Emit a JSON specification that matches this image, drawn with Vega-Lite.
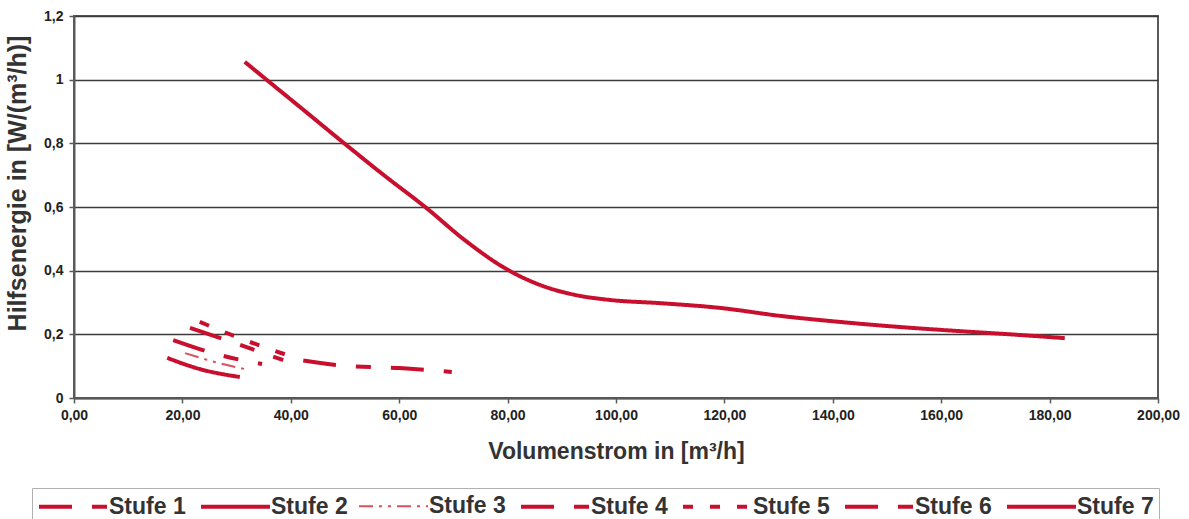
{
  "$schema": "https://vega.github.io/schema/vega-lite/v6.json",
  "autosize": {"type": "none"},
  "width": 1084,
  "height": 382,
  "padding": {"left": 74, "top": 16, "right": 31, "bottom": 121},
  "background": "white",
  "config": {
    "font": "Liberation Sans",
    "view": {"stroke": "#5a5a5a", "strokeWidth": 2}
  },
  "data": {
    "values": [
      {"stufe": "Stufe 1", "x": 18.3, "y": 0.182},
      {"stufe": "Stufe 1", "x": 26.9, "y": 0.135},
      {"stufe": "Stufe 1", "x": 34.7, "y": 0.107},
      {"stufe": "Stufe 2", "x": 17.2, "y": 0.126},
      {"stufe": "Stufe 2", "x": 23.2, "y": 0.091},
      {"stufe": "Stufe 2", "x": 30.6, "y": 0.066},
      {"stufe": "Stufe 3", "x": 20.5, "y": 0.141},
      {"stufe": "Stufe 3", "x": 26.0, "y": 0.113},
      {"stufe": "Stufe 3", "x": 31.5, "y": 0.091},
      {"stufe": "Stufe 4", "x": 21.4, "y": 0.220},
      {"stufe": "Stufe 4", "x": 30.6, "y": 0.167},
      {"stufe": "Stufe 4", "x": 38.6, "y": 0.119},
      {"stufe": "Stufe 5", "x": 23.2, "y": 0.239},
      {"stufe": "Stufe 5", "x": 31.5, "y": 0.182},
      {"stufe": "Stufe 5", "x": 39.3, "y": 0.135},
      {"stufe": "Stufe 6", "x": 42.3, "y": 0.118},
      {"stufe": "Stufe 6", "x": 50.0, "y": 0.101},
      {"stufe": "Stufe 6", "x": 60.1, "y": 0.094},
      {"stufe": "Stufe 6", "x": 69.7, "y": 0.082},
      {"stufe": "Stufe 7", "x": 31.5, "y": 1.056},
      {"stufe": "Stufe 7", "x": 35.8, "y": 0.996},
      {"stufe": "Stufe 7", "x": 41.7, "y": 0.914},
      {"stufe": "Stufe 7", "x": 50.0, "y": 0.798},
      {"stufe": "Stufe 7", "x": 57.4, "y": 0.697},
      {"stufe": "Stufe 7", "x": 64.8, "y": 0.600},
      {"stufe": "Stufe 7", "x": 72.1, "y": 0.496},
      {"stufe": "Stufe 7", "x": 80.1, "y": 0.402},
      {"stufe": "Stufe 7", "x": 86.0, "y": 0.355},
      {"stufe": "Stufe 7", "x": 92.4, "y": 0.324},
      {"stufe": "Stufe 7", "x": 98.9, "y": 0.308},
      {"stufe": "Stufe 7", "x": 108.1, "y": 0.298},
      {"stufe": "Stufe 7", "x": 119.2, "y": 0.283},
      {"stufe": "Stufe 7", "x": 130.3, "y": 0.258},
      {"stufe": "Stufe 7", "x": 141.3, "y": 0.239},
      {"stufe": "Stufe 7", "x": 152.4, "y": 0.223},
      {"stufe": "Stufe 7", "x": 163.5, "y": 0.210},
      {"stufe": "Stufe 7", "x": 174.5, "y": 0.198},
      {"stufe": "Stufe 7", "x": 182.8, "y": 0.188}
    ]
  },
  "mark": {"type": "line", "interpolate": "monotone", "strokeCap": "butt", "strokeJoin": "round"},
  "encoding": {
    "x": {
      "field": "x", "type": "quantitative",
      "scale": {"domain": [0, 200], "nice": false, "zero": false},
      "axis": {
        "values": [0, 20, 40, 60, 80, 100, 120, 140, 160, 180, 200],
        "labelExpr": "replace(format(datum.value, '.2f'), '.', ',')",
        "grid": false,
        "domainColor": "#5a5a5a", "domainWidth": 2,
        "tickColor": "#5a5a5a", "tickSize": 5, "tickWidth": 1.5,
        "labelFont": "Liberation Sans", "labelFontWeight": "bold", "labelFontSize": 14,
        "labelColor": "#222", "labelPadding": 5, "labelFlush": false,
        "title": "Volumenstrom in [m³/h]",
        "titleFont": "Liberation Sans", "titleFontWeight": "bold", "titleFontSize": 23,
        "titleColor": "#333", "titleX": 542, "titleY": 53, "titleAlign": "center", "titleBaseline": "middle"
      }
    },
    "y": {
      "field": "y", "type": "quantitative",
      "scale": {"domain": [0, 1.2], "nice": false, "zero": false},
      "axis": {
        "values": [0, 0.2, 0.4, 0.6, 0.8, 1, 1.2],
        "labelExpr": "replace(toString(datum.value), '.', ',')",
        "grid": true, "gridColor": "#3a3a3a", "gridWidth": 1.6, "gridOpacity": 1,
        "domainColor": "#5a5a5a", "domainWidth": 2,
        "tickColor": "#5a5a5a", "tickSize": 5, "tickWidth": 1.5,
        "labelFont": "Liberation Sans", "labelFontWeight": "bold", "labelFontSize": 14,
        "labelColor": "#222", "labelPadding": 6,
        "title": "Hilfsenergie in [W/(m³/h)]",
        "titleFont": "Liberation Sans", "titleFontWeight": "bold", "titleFontSize": 25,
        "titleColor": "#333", "titleX": -57, "titleY": 167, "titleAlign": "center", "titleBaseline": "middle", "titleAngle": 270
      }
    },
    "color": {
      "field": "stufe", "type": "nominal",
      "scale": {
        "domain": ["Stufe 1", "Stufe 2", "Stufe 3", "Stufe 4", "Stufe 5", "Stufe 6", "Stufe 7"],
        "range": ["#c8102e", "#c8102e", "#d9505e", "#c8102e", "#c8102e", "#c8102e", "#c8102e"]
      },
      "legend": {
        "title": null, "orient": "none", "legendX": -42, "legendY": 472,
        "direction": "horizontal", "columns": 7,
        "symbolType": "M-1,0H5", "symbolSize": 529, "symbolStrokeWidth": 4, "symbolFillColor": "transparent",
        "labelFont": "Liberation Sans", "labelFontWeight": "bold", "labelFontSize": 23, "labelColor": "#333",
        "labelOffset": 45, "columnPadding": 7, "padding": 5,
        "strokeColor": "#b0b0b0", "fillColor": "white", "labelLimit": 200
      }
    },
    "strokeDash": {
      "field": "stufe", "type": "nominal",
      "scale": {
        "domain": ["Stufe 1", "Stufe 2", "Stufe 3", "Stufe 4", "Stufe 5", "Stufe 6", "Stufe 7"],
        "range": [[33, 20, 15, 20], [1, 0], [14, 6, 3, 6, 3, 6], [33, 20, 15, 20], [10, 17], [33, 20, 15, 20], [1, 0]]
      },
      "legend": {
        "title": null, "orient": "none", "legendX": -42, "legendY": 472,
        "direction": "horizontal", "columns": 7,
        "symbolType": "M-1,0H5", "symbolSize": 529, "symbolStrokeWidth": 4, "symbolFillColor": "transparent",
        "labelFont": "Liberation Sans", "labelFontWeight": "bold", "labelFontSize": 23, "labelColor": "#333",
        "labelOffset": 45, "columnPadding": 7, "padding": 5,
        "strokeColor": "#b0b0b0", "fillColor": "white", "labelLimit": 200
      }
    },
    "strokeWidth": {
      "field": "stufe", "type": "nominal",
      "scale": {
        "type": "ordinal",
        "domain": ["Stufe 1", "Stufe 2", "Stufe 3", "Stufe 4", "Stufe 5", "Stufe 6", "Stufe 7"],
        "range": [4, 4, 2, 4, 4, 4, 4]
      },
      "legend": null
    }
  }
}
